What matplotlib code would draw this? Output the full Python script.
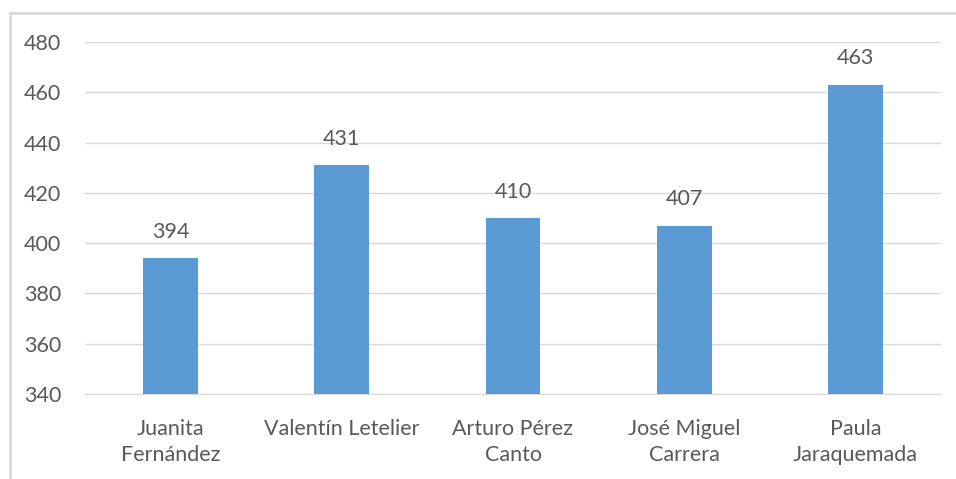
import matplotlib.pyplot as plt
from matplotlib.lines import Line2D

# Datos del grafico
nombres = ['Juanita\nFernández', 'Valentín Letelier', 'Arturo Pérez\nCanto',
           'José Miguel\nCarrera', 'Paula\nJaraquemada']
puntajes = [394, 431, 410, 407, 463]
ticks_y = [340, 360, 380, 400, 420, 440, 460, 480]

plt.rcParams['font.family'] = ['Lato', 'DejaVu Sans']
gris = '#595959'
tam = 15.5

fig = plt.figure(figsize=(9.56, 4.79), dpi=100)
ax = fig.add_axes([85 / 956, 1 - 394 / 479, 856 / 956, 352 / 479])

x = range(len(nombres))
ax.bar(x, puntajes, width=0.32, color='#5B9BD5', zorder=3)
for xi, v in zip(x, puntajes):
    ax.text(xi, v + 6.5, str(v), ha='center', va='bottom', fontsize=tam, color=gris)

ax.set_ylim(340, 480)
ax.set_xlim(-0.5, len(nombres) - 0.5)
ax.set_yticks(ticks_y)
ax.set_xticks(list(x))
ax.set_xticklabels(nombres, fontsize=tam, color=gris, linespacing=1.4)
ax.tick_params(axis='y', labelsize=tam, labelcolor=gris, length=0, pad=17)
ax.tick_params(axis='x', length=0, pad=18)
ax.grid(axis='y', color='#d9d9d9', linewidth=1, zorder=0)
for s in ['top', 'right', 'left']:
    ax.spines[s].set_visible(False)
ax.spines['bottom'].set_color('#d9d9d9')

# marco del grafico (recortado)
fig.add_artist(Line2D([10 / 956, 10 / 956], [0, 1 - 13 / 479], color='#d9d9d9', lw=2))
fig.add_artist(Line2D([10 / 956, 1], [1 - 13 / 479, 1 - 13 / 479], color='#d9d9d9', lw=2))

fig.savefig('out.png', dpi=100)
